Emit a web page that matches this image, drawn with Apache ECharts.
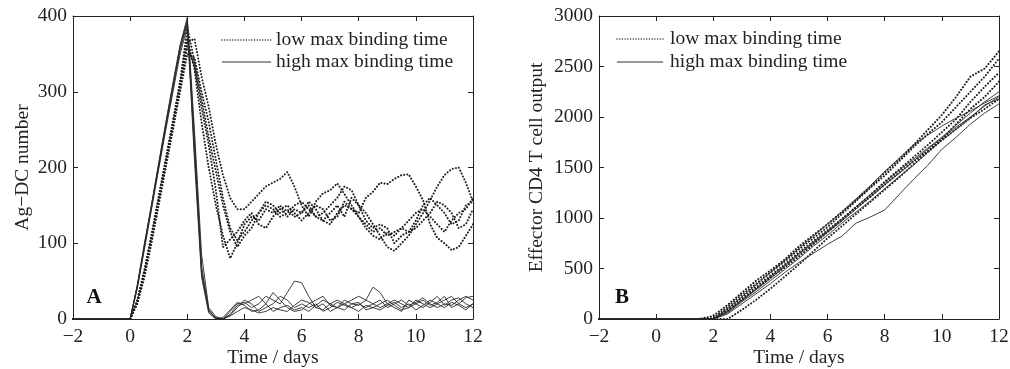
<!DOCTYPE html>
<html>
<head>
<meta charset="utf-8">
<script src="https://cdn.jsdelivr.net/npm/echarts@6/dist/echarts.min.js"></script>
<style>
html,body{margin:0;padding:0;background:#fff;}
#chart{width:1010px;height:369px;}
</style>
</head>
<body>
<div id="chart"></div>
<script>
// ---------- DATA ----------
var xTicks = [-2, 0, 2, 4, 6, 8, 10, 12];
var yTicksA = [0, 100, 200, 300, 400];
var yTicksB = [0, 500, 1000, 1500, 2000, 2500, 3000];
var legendLabels = ['low max binding time', 'high max binding time'];
var xTitle = 'Time / days';
var yTitleA = 'Ag\u2212DC number';
var yTitleB = 'Effector CD4 T cell output';

// Panel A time points (days)
var timesA = [-2,
  0, 0.25, 0.5, 0.75, 1, 1.25, 1.5, 1.75, 2,
  2.25, 2.5, 2.75, 3, 3.25, 3.5, 3.75, 4,
  4.25, 4.5, 4.75, 5, 5.25, 5.5, 5.75, 6,
  6.25, 6.5, 6.75, 7, 7.25, 7.5, 7.75, 8,
  8.25, 8.5, 8.75, 9, 9.25, 9.5, 9.75, 10,
  10.25, 10.5, 10.75, 11, 11.25, 11.5, 11.75, 12];

// Panel A: low max binding time (dotted)
var lowA1 = [0, 0,25,65,110,160,210,260,315,370, 330,260,200,150, 110,80,100,125, 135,130,145,140, 150,135,145,140, 150,135,130,125, 140,150,145,135, 120,110,105,115, 110,120,115,130, 150,160,150,140, 125,130,150,155];
var lowA2 = [0, 0,22,60,105,155,205,255,305,360, 335,280,230,170, 95,105,115,130, 140,125,120,135, 145,150,140,130, 140,150,145,130, 135,155,145,140, 160,168,180,178, 185,190,191,175, 157,125,107,100, 91,95,110,125];
var lowA3 = [0, 0,20,55,100,150,200,250,300,350, 345,300,260,210, 160,120,104,115, 130,140,150,145, 135,140,150,155, 145,135,140,150, 160,175,170,150, 140,125,110,95, 90,100,110,125, 140,157,175,190, 198,200,180,155];
var lowA4 = [0, 0,22,62,108,158,208,258,310,365, 370,320,280,230, 190,160,145,145, 155,165,175,180, 185,194,175,150, 135,155,166,170, 179,165,150,135, 125,115,120,110, 115,120,130,140, 145,135,125,115, 130,140,145,160];
var lowA5 = [0, 0,24,63,112,162,212,262,312,385, 340,290,240,195, 150,115,95,110, 120,140,155,150, 140,145,135,140, 155,145,130,140, 150,135,160,150, 130,120,125,120, 100,110,115,120, 130,140,155,150, 140,120,125,145];

// Panel A: high max binding time (solid)
var highA1 = [0, 0,45,100,150,205,260,310,360,395, 240,70,12,0, 0,10,20,22, 15,20,30,25, 20,35,50,48, 30,15,20,10, 15,20,25,30, 25,20,15,20, 25,20,15,25, 20,15,20,25, 30,20,15,20];
var highA2 = [0, 0,42,95,148,200,255,305,355,390, 210,55,8,0, 2,12,22,18, 10,12,20,35, 25,15,10,12, 20,25,30,18, 15,12,20,18, 25,42,35,20, 15,10,25,20, 15,22,30,18, 25,28,20,15];
var highA3 = [0, 0,40,92,145,198,250,300,350,385, 230,60,10,2, 0,5,15,25, 20,10,15,20, 30,25,15,20, 15,20,10,15, 22,18,15,20, 15,20,25,15, 20,25,18,22, 28,20,15,20, 18,25,30,25];
var highA4 = [0, 0,44,98,152,206,258,312,362,398, 250,85,15,3, 0,4,10,15, 12,8,10,15, 12,10,18,25, 22,15,12,20, 25,20,15,10, 18,15,12,18, 22,15,20,12, 18,25,20,15, 22,18,12,20];
var highA5 = [0, 0,43,96,150,202,254,306,358,392, 220,65,12,1, 0,6,18,20, 25,30,20,10, 15,18,12,15, 10,18,25,20, 15,25,20,22, 12,15,20,25, 18,12,15,20, 25,18,22,30, 15,20,28,30];

// Panel B time points (days)
var timesB = [-2, 1.5, 2, 2.5, 3, 3.5, 4, 4.5, 5, 5.5, 6, 6.5, 7, 7.5, 8, 8.5, 9, 9.5, 10, 10.5, 11, 11.5, 12];

// Panel B: low max binding time (dotted)
var lowB1 = [0, 0, 30,140,260,380,480,590,720,830,940,1060,1180,1310,1450,1580,1720,1870,2020,2200,2400,2480,2650];
var lowB2 = [0, 0, 10,120,240,350,460,570,690,800,910,1040,1170,1300,1420,1560,1700,1830,1950,2100,2250,2400,2580];
var lowB3 = [0, 0, 0,100,210,320,430,540,660,770,880,990,1110,1230,1360,1480,1600,1720,1850,1980,2150,2300,2440];
var lowB4 = [0, 0, 0,80,190,300,410,510,620,740,860,980,1100,1210,1330,1450,1560,1660,1780,1930,2080,2200,2350];
var lowB5 = [0, 0, 0,0,90,190,300,420,540,670,800,920,1040,1160,1280,1400,1530,1650,1770,1880,1990,2080,2180];

// Panel B: high max binding time (solid)
var highB1 = [0, 0, 0,100,220,340,460,580,700,820,940,1060,1190,1320,1460,1590,1720,1820,1910,1990,2060,2140,2210];
var highB2 = [0, 0, 0,70,180,290,400,520,640,750,860,970,1090,1210,1330,1440,1560,1680,1790,1900,2000,2110,2200];
var highB3 = [0, 0, 0,60,170,270,380,490,600,720,830,950,1060,1170,1290,1410,1520,1650,1770,1880,1990,2120,2180];
var highB4 = [0, 0, 0,50,150,250,350,460,560,650,740,820,950,1010,1080,1230,1380,1520,1680,1800,1930,2040,2130];
var highB5 = [0, 0, 0,80,190,300,420,530,650,760,870,990,1110,1230,1350,1470,1580,1690,1800,1920,2040,2150,2250];

// ---------- STYLE / BUILD ----------
var FONT = '"Liberation Serif","DejaVu Serif",serif';
var FS = 19.5;
var INK = '#222';
var DOT = [0.1, 3.1];

function pairs(ts, vs) { return ts.map(function (t, i) { return [t, vs[i]]; }); }
function mkSeries(ts, vs, dotted, gi) {
  return {
    type: 'line', xAxisIndex: gi * 2, yAxisIndex: gi * 2,
    data: pairs(ts, vs), symbol: 'none', silent: true, animation: false,
    clip: true,
    lineStyle: dotted ? { color: '#1e1e1e', width: 2, type: DOT, cap: 'round' }
                      : { color: '#2a2a2a', width: 0.9, type: 'solid' }
  };
}
function xAxes(gi) {
  var base = { type: 'value', gridIndex: gi, min: xTicks[0], max: xTicks[xTicks.length - 1], interval: 2,
    splitLine: { show: false },
    axisLine: { show: true, onZero: false, lineStyle: { color: INK, width: 1 } },
    axisTick: { show: true, inside: true, length: 5, lineStyle: { color: INK } } };
  var bottom = Object.assign({}, base, { position: 'bottom',
    axisLabel: { color: INK, fontFamily: FONT, fontSize: FS, margin: 8,
      formatter: function (v) { return String(v).replace('-', '\u2212'); } },
    name: xTitle, nameLocation: 'middle', nameGap: 29, nameMoveOverlap: false,
    nameTextStyle: { color: INK, fontFamily: FONT, fontSize: FS } });
  var top = Object.assign({}, base, { position: 'top', axisLabel: { show: false } });
  return [bottom, top];
}
function yAxes(gi, ticks, title, gap) {
  var base = { type: 'value', gridIndex: gi, min: ticks[0], max: ticks[ticks.length - 1],
    interval: ticks[1] - ticks[0], splitLine: { show: false },
    axisLine: { show: true, onZero: false, lineStyle: { color: INK, width: 1 } },
    axisTick: { show: true, inside: true, length: 5, lineStyle: { color: INK } } };
  var left = Object.assign({}, base, { position: 'left',
    axisLabel: { color: INK, fontFamily: FONT, fontSize: FS, margin: 6,
      formatter: function (v) { return String(v); } },
    name: title, nameLocation: 'middle', nameGap: gap, nameRotate: 90, nameMoveOverlap: false,
    nameTextStyle: { color: INK, fontFamily: FONT, fontSize: FS } });
  var right = Object.assign({}, base, { position: 'right', axisLabel: { show: false } });
  return [left, right];
}

var series = [];
[lowA1, lowA2, lowA3, lowA4, lowA5].forEach(function (v) { series.push(mkSeries(timesA, v, true, 0)); });
[highA1, highA2, highA3, highA4, highA5].forEach(function (v) { series.push(mkSeries(timesA, v, false, 0)); });
[lowB1, lowB2, lowB3, lowB4, lowB5].forEach(function (v) { series.push(mkSeries(timesB, v, true, 1)); });
[highB1, highB2, highB3, highB4, highB5].forEach(function (v) { series.push(mkSeries(timesB, v, false, 1)); });

function legendGraphics(x0, x1, tx, y1, y2) {
  return [
    { type: 'line', shape: { x1: x0, y1: y1, x2: x1, y2: y1 }, style: { stroke: '#333', lineWidth: 1.4, lineDash: [0.1, 2.6], lineCap: 'round' } },
    { type: 'text', x: tx, y: y1, style: { text: legendLabels[0], font: FS + 'px ' + FONT, fill: INK, verticalAlign: 'middle' } },
    { type: 'line', shape: { x1: x0, y1: y2, x2: x1, y2: y2 }, style: { stroke: '#333', lineWidth: 1 } },
    { type: 'text', x: tx, y: y2, style: { text: legendLabels[1], font: FS + 'px ' + FONT, fill: INK, verticalAlign: 'middle' } }
  ];
}

var chart = echarts.init(document.getElementById('chart'), null, { renderer: 'canvas' });
var xa = xAxes(0), xb = xAxes(1);
var ya = yAxes(0, yTicksA, yTitleA, 40), yb = yAxes(1, yTicksB, yTitleB, 52);
chart.setOption({
  backgroundColor: '#fff',
  animation: false,
  grid: [
    { left: 73, top: 16, width: 400, height: 303, outerBoundsMode: 'none', containLabel: false },
    { left: 599, top: 16, width: 400, height: 303, outerBoundsMode: 'none', containLabel: false }
  ],
  xAxis: [xa[0], xa[1], xb[0], xb[1]],
  yAxis: [ya[0], ya[1], yb[0], yb[1]],
  series: series,
  graphic: [].concat(
    legendGraphics(222, 271, 276, 40, 62),
    legendGraphics(617, 663, 670, 39, 62),
    [
      { type: 'text', x: 94, y: 298, style: { text: 'A', font: 'bold 21px ' + FONT, fill: '#111', align: 'center', verticalAlign: 'middle' } },
      { type: 'text', x: 622, y: 298, style: { text: 'B', font: 'bold 21px ' + FONT, fill: '#111', align: 'center', verticalAlign: 'middle' } }
    ])
});
</script>
</body>
</html>
